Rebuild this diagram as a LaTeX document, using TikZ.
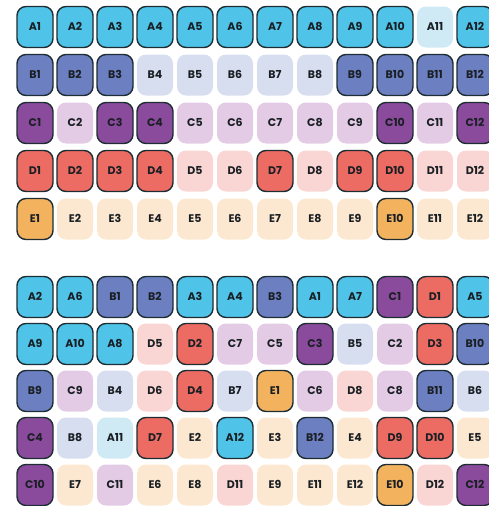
\documentclass[tikz,border=0pt]{standalone}
\usepackage{fontspec}
\setsansfont{Poppins}
\usepackage{xcolor}
\usetikzlibrary{positioning}

% selected (1) and faded (0) tones per row letter
\definecolor{cA1}{HTML}{4FC4E8}
\definecolor{cA0}{HTML}{CFEAF5}
\definecolor{cB1}{HTML}{6C7FC1}
\definecolor{cB0}{HTML}{D7DEF0}
\definecolor{cC1}{HTML}{8B4B9D}
\definecolor{cC0}{HTML}{E4CBE5}
\definecolor{cD1}{HTML}{EC6B63}
\definecolor{cD0}{HTML}{F9D5D3}
\definecolor{cE1}{HTML}{F3B35E}
\definecolor{cE0}{HTML}{FCE8D0}
\definecolor{edge}{HTML}{1E2D33}
\definecolor{ink}{HTML}{1A1F24}

\begin{document}
\begin{tikzpicture}[
  x=1pt, y=-1pt,
  cell/.style 2 args={draw=edge, draw opacity=#2, line width=1.4pt, fill=c#1#2,
    rounded corners=9pt, minimum width=36pt, minimum height=41pt, inner sep=0pt,
    text height=7.7pt, text depth=0pt,
    font=\sffamily\bfseries\fontsize{11}{11}\selectfont, text=ink},
]
\useasboundingbox (0,0) rectangle (489,506);

% ordered plate
\foreach \row/\flags [count=\j] in {
    A/{1,1,1,1,1,1,1,1,1,1,0,1},
    B/{1,1,1,0,0,0,0,0,1,1,1,1},
    C/{1,0,1,1,0,0,0,0,0,1,0,1},
    D/{1,1,1,1,0,0,1,0,1,1,0,0},
    E/{1,0,0,0,0,0,0,0,0,1,0,0}}
  \foreach \f [count=\i] in \flags
    \node[cell={\row}{\f}] (top-\row\i) at ({35+40*(\i-1)}, {27+48*(\j-1)}) {\row\i};

% shuffled plate
\foreach \cells [count=\j] in {
    {A/2/1, A/6/1, B/1/1, B/2/1, A/3/1, A/4/1, B/3/1, A/1/1, A/7/1, C/1/1, D/1/1, A/5/1},
    {A/9/1, A/10/1, A/8/1, D/5/0, D/2/1, C/7/0, C/5/0, C/3/1, B/5/0, C/2/0, D/3/1, B/10/1},
    {B/9/1, C/9/0, B/4/0, D/6/0, D/4/1, B/7/0, E/1/1, C/6/0, D/8/0, C/8/0, B/11/1, B/6/0},
    {C/4/1, B/8/0, A/11/0, D/7/1, E/2/0, A/12/1, E/3/0, B/12/1, E/4/0, D/9/1, D/10/1, E/5/0},
    {C/10/1, E/7/0, C/11/0, E/6/0, E/8/0, D/11/0, E/9/0, E/11/0, E/12/0, E/10/1, D/12/0, C/12/1}}
  \foreach \l/\n/\f [count=\i] in \cells
    \node[cell={\l}{\f}] (mix-\l\n) at ({35+40*(\i-1)}, {297+47*(\j-1)}) {\l\n};
\end{tikzpicture}
\end{document}
